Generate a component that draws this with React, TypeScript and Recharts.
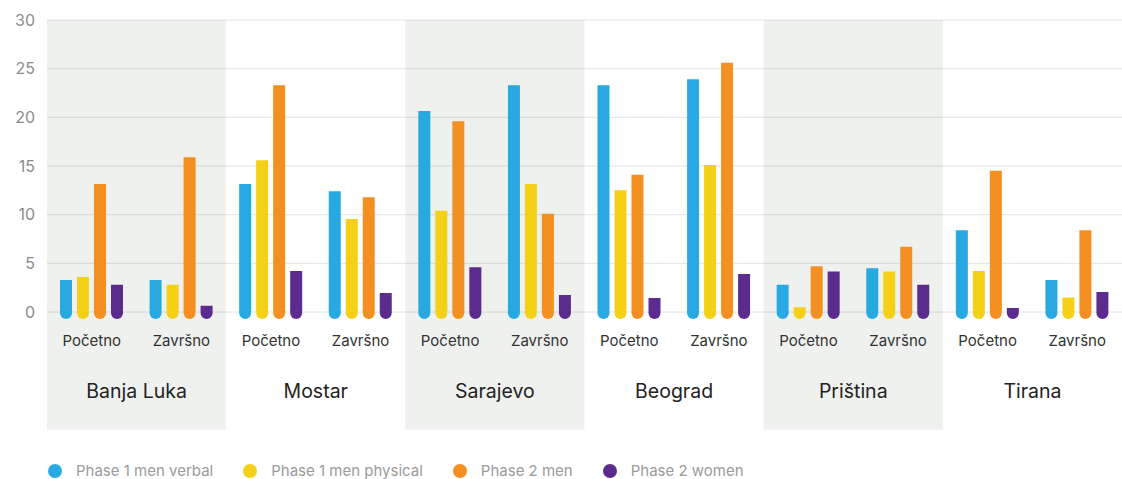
import { BarChart, Bar, XAxis, YAxis, CartesianGrid, ReferenceArea, Legend } from 'recharts'

const cities = ['Banja Luka', 'Mostar', 'Sarajevo', 'Beograd', 'Priština', 'Tirana']
const phases = ['Početno', 'Završno']
const shadedCities = ['Banja Luka', 'Sarajevo', 'Priština']

// one value per city/phase, in the order Banja Luka Početno, Banja Luka Završno, Mostar ...
const phase1Verbal = [3.3, 3.3, 13.15, 12.4, 20.65, 23.3, 23.3, 23.9, 2.8, 4.5, 8.4, 3.3]
const phase1Physical = [3.6, 2.8, 15.6, 9.55, 10.4, 13.15, 12.5, 15.1, 0.5, 4.15, 4.2, 1.5]
const phase2Men = [13.15, 15.9, 23.3, 11.8, 19.6, 10.1, 14.1, 25.6, 4.7, 6.7, 14.5, 8.4]
const phase2Women = [2.8, 0.65, 4.2, 1.95, 4.6, 1.75, 1.45, 3.9, 4.15, 2.8, 0.4, 2.05]
const yTicks = [0, 5, 10, 15, 20, 25, 30]

const series = [
  { key: 'verbal', name: 'Phase 1 men verbal', color: '#29a9e1' },
  { key: 'physical', name: 'Phase 1 men physical', color: '#f4d116' },
  { key: 'men', name: 'Phase 2 men', color: '#f39021' },
  { key: 'women', name: 'Phase 2 women', color: '#5b2c8d' },
]

const data = cities.flatMap((city, ci) =>
  phases.map((phase, pi) => {
    const i = ci * 2 + pi
    return {
      id: `${city}|${phase}`,
      city,
      phase,
      verbal: phase1Verbal[i],
      physical: phase1Physical[i],
      men: phase2Men[i],
      women: phase2Women[i],
    }
  })
)

const font = 'Inter, "Noto Sans", sans-serif'

// flat top, round cap hanging just below the zero line
function PillBar(props: any) {
  const { x, y, width, height, fill } = props
  if (width == null || height == null) return null
  const r = width / 2
  const bottom = y + height + 1
  const d = `M${x},${y} H${x + width} V${bottom} A${r},${r} 0 0 1 ${x},${bottom} Z`
  return <path d={d} fill={fill} />
}

function LegendContent() {
  return (
    <div style={{ display: 'flex', alignItems: 'flex-end', height: 47, paddingLeft: 48, fontFamily: font }}>
      {series.map(s => (
        <div key={s.key} style={{ display: 'flex', alignItems: 'center', marginRight: 30, height: 16 }}>
          <span style={{ width: 14, height: 14, borderRadius: 7, background: s.color, display: 'inline-block', marginRight: 14 }} />
          <span style={{ fontSize: 15, color: '#9b9b9b', lineHeight: '16px' }}>{s.name}</span>
        </div>
      ))}
    </div>
  )
}

export default function App() {
  return (
    <div style={{ position: 'absolute', left: 0, top: 0 }}>
      <BarChart
        width={1122}
        height={479}
        data={data}
        barSize={12}
        barGap={5}
        margin={{ top: 20, right: 0, left: 0, bottom: 0 }}
        style={{ fontFamily: font }}
      >
        {shadedCities.map(c => (
          <ReferenceArea
            key={c}
            x1={`${c}|Početno`}
            x2={`${c}|Završno`}
            y1={-12.1}
            y2={30}
            ifOverflow="visible"
            fill="#0a2a14"
            fillOpacity={0.065}
            stroke="none"
          />
        ))}
        <CartesianGrid vertical={false} stroke="#e4e4e4" />
        <XAxis
          dataKey="id"
          tickFormatter={(v: string) => v.split('|')[1]}
          axisLine={false}
          tickLine={false}
          height={45}
          tickMargin={17}
          interval={0}
          tick={{ fontSize: 15, fill: '#333' }}
        />
        <XAxis
          xAxisId="city"
          dataKey="city"
          allowDuplicatedCategory={false}
          axisLine={false}
          tickLine={false}
          height={75}
          tickMargin={21}
          interval={0}
          tick={{ fontSize: 19.5, fill: '#222' }}
        />
        <YAxis
          domain={[0, 30]}
          ticks={yTicks}
          width={47}
          axisLine={false}
          tickLine={false}
          tickMargin={6}
          tick={{ fontSize: 16, fill: '#8c8c8c' }}
        />
        <Legend verticalAlign="bottom" align="left" content={<LegendContent />} />
        {series.map(s => (
          <Bar key={s.key} dataKey={s.key} name={s.name} fill={s.color} shape={<PillBar />} isAnimationActive={false} />
        ))}
      </BarChart>
    </div>
  )
}
